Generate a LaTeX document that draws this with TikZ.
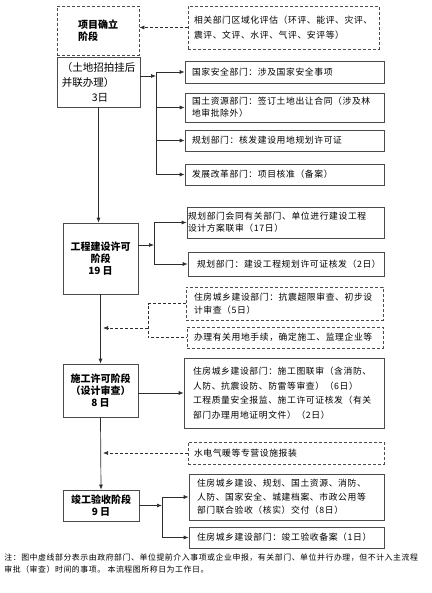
\documentclass[tikz,border=0pt]{standalone}
\usepackage{fontspec}
\setmainfont{Noto Sans CJK SC}
\newfontfamily\boxfont[LetterSpace=7]{Noto Sans CJK SC}
\usetikzlibrary{arrows.meta,calc}
\definecolor{ink}{RGB}{45,45,45}
\definecolor{frame}{RGB}{75,75,75}
\tikzset{
  every picture/.style={color=ink, line width=0.7pt},
  stage/.style={draw=frame, fill=white, inner sep=0pt, align=center, text=black, font=\fontsize{10bp}{12bp}\selectfont\bfseries},
  item/.style={draw=frame, fill=white, inner ysep=0pt, align=left, text=black, font=\boxfont\fontsize{8.8bp}{13.5bp}\selectfont},
  early/.style={item, dash pattern=on 3bp off 2bp},
  tight/.style={font=\boxfont\fontsize{8.8bp}{12bp}\selectfont},
  loose/.style={font=\boxfont\fontsize{8.8bp}{14.5bp}\selectfont},
  flow/.style={-{Latex[length=5bp,width=4bp]}, draw=ink},
  feed/.style={flow, dash pattern=on 3bp off 2bp},
  link/.style={draw=ink},
  dlink/.style={link, dash pattern=on 3bp off 2bp},
  note/.style={inner sep=0pt, align=left, text=black, font=\boxfont\fontsize{7.9bp}{12bp}\selectfont},
}

\begin{document}
\begin{tikzpicture}[x=1bp, y=-1bp]
  \useasboundingbox (0,0) rectangle (431,593);
  % stages
  \node[stage, dash pattern=on 3bp off 2bp, minimum width=82bp, minimum height=49bp, align=left] (b1) at (98,30.5) {项目确立\\阶段};
  \node[stage, font=\fontsize{10.5bp}{15bp}\selectfont, minimum width=83bp, minimum height=50bp, align=left] (b2) at (98.5,82) {（土地招拍挂后\\并联办理）\\\hspace*{30bp}3日};
  \node[stage, minimum width=75bp, minimum height=71bp] (b3) at (100.5,258.5) {工程建设许可\\阶段\\19 日};
  \node[stage, minimum width=75bp, minimum height=53bp] (b4) at (100.5,390.5) {施工许可阶段\\（设计审查）\\8 日};
  \node[stage, minimum width=76bp, minimum height=31bp] (b5) at (101,505.5) {竣工验收阶段\\9 日};

  % departments
  \node[early, loose, text width=179bp, inner xsep=6bp, minimum height=43bp] (d1) at (283.5,27.5) {相关部门区域化评估（环评、能评、灾评、\\震评、文评、水评、气评、安评等）};
  \node[item, text width=185bp, inner xsep=7bp, minimum height=22bp] (r1) at (284.5,72) {国家安全部门：涉及国家安全事项};
  \node[item, tight, text width=185bp, inner xsep=7bp, minimum height=29bp] (r2) at (284.5,107.5) {国土资源部门：签订土地出让合同（涉及林\\地审批除外）};
  \node[item, text width=185bp, inner xsep=7bp, minimum height=21bp] (r3) at (284.5,140.5) {规划部门：核发建设用地规划许可证};
  \node[item, text width=185bp, inner xsep=7bp, minimum height=21bp] (r4) at (284.5,174.5) {发展改革部门：项目核准（备案）};
  \node[item, tight, text width=195bp, inner xsep=1bp, minimum height=31bp] (r5) at (285.5,222.5) {规划部门会同有关部门、单位进行建设工程\\设计方案联审（17日）};
  \node[item, text width=178bp, inner xsep=9bp, minimum height=24bp] (r6) at (286,264) {规划部门：建设工程规划许可证核发（2日）};
  \node[early, text width=181bp, inner xsep=8bp, minimum height=33bp] (d2) at (284.5,303.5) {住房城乡建设部门：抗震超限审查、初步设\\计审查（5日）};
  \node[early, text width=182bp, inner xsep=7bp, minimum height=21bp] (d3) at (285,337.5) {办理有关用地手续，确定施工、监理企业等};
  \node[item, loose, text width=182bp, inner xsep=9bp, minimum height=70bp] (r7) at (284,393) {住房城乡建设部门：施工图联审（含消防、\\人防、抗震设防、防雷等审查）（6日）\\工程质量安全报监、施工许可证核发（有关\\部门办理用地证明文件）（2日）};
  \node[early, text width=184bp, inner xsep=6bp, minimum height=22bp] (d4) at (286,453) {水电气暖等专营设施报装};
  \node[item, text width=179bp, inner xsep=8bp, minimum height=46bp] (r8) at (286.5,497) {住房城乡建设、规划、国土资源、消防、\\人防、国家安全、城建档案、市政公用等\\部门联合验收（核实）交付（8日）};
  \node[item, text width=179bp, inner xsep=8bp, minimum height=21bp] (r9) at (286.5,537.5) {住房城乡建设部门：竣工验收备案（1日）};

  % main line
  \draw[flow] (b2.south) -- (b2.south |- b3.north);
  \draw[flow] (b3.south) -- (b4.north);
  \draw[flow] (b4.south) -- (b5.north);

  % branches
  \draw[feed] (d1.west) -- (b1.east |- d1.west);
  \coordinate (j1) at (156,76);
  \draw[flow] (b2.east |- j1) -- (j1);
  \draw[link] (j1 |- r1.west) -- (j1 |- r4.west);
  \foreach \r in {r1,r2,r3,r4} \draw[flow] (j1 |- \r.west) -- (\r.west);
  \coordinate (j2) at (154,245);
  \draw[flow] (b3.east |- j2) -- (j2);
  \draw[link] (j2 |- r5.west) -- (j2 |- r6.west);
  \foreach \r in {r5,r6} \draw[flow] (j2 |- \r.west) -- (\r.west);
  \coordinate (k1) at (148,328);
  \draw[dlink] (d2.west) -- (k1 |- d2.west) -- (k1 |- d3.west) -- (d3.west);
  \draw[feed] (k1) -- ([xshift=2.5bp]b3.south |- k1);
  \draw[flow] (b4.east |- r7.west) -- (r7.west);
  \draw[feed] (d4.west) -- ([xshift=2.5bp]b4.south |- d4.west);
  \coordinate (j3) at (162,505.5);
  \draw[flow] (b5.east) -- (j3);
  \draw[link] (j3 |- r8.west) -- (j3 |- r9.west);
  \foreach \r in {r8,r9} \draw[flow] (j3 |- \r.west) -- (\r.west);

  \node[note, anchor=north west] (n1) at (4,553) {注：图中虚线部分表示由政府部门、单位提前介入事项或企业申报，有关部门、单位并行办理，但不计入主流程\\审批（审查）时间的事项。\ 本流程图所称日为工作日。};
\end{tikzpicture}
\end{document}
